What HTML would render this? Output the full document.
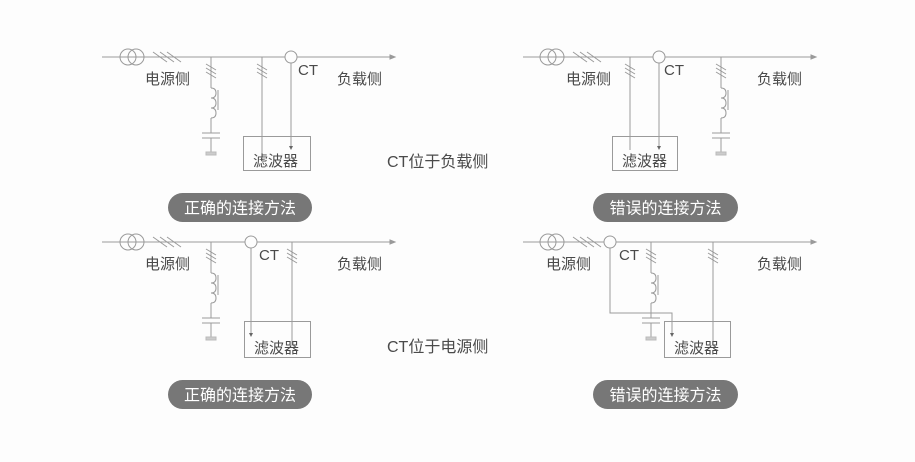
<!DOCTYPE html>
<html><head><meta charset="utf-8"><style>
html,body{margin:0;padding:0;background:#fdfdfd;}
svg{display:block;font-family:"Liberation Sans","Noto Sans CJK SC",sans-serif;}
</style></head><body>
<svg width="915" height="462" viewBox="0 0 915 462" xmlns="http://www.w3.org/2000/svg">
<defs>
<g id="tr" fill="none" stroke="#9a9a9a" stroke-width="1">
  <circle cx="-4" cy="0" r="8"/><circle cx="4" cy="0" r="8"/>
</g>
<g id="hash" stroke="#9a9a9a" stroke-width="1">
  <line x1="-12" y1="-5" x2="2" y2="5"/><line x1="-5" y1="-5" x2="9" y2="5"/><line x1="2" y1="-5" x2="16" y2="5"/>
</g>
<g id="vhash" stroke="#9a9a9a" stroke-width="1">
  <line x1="-5" y1="-7" x2="5" y2="-1"/><line x1="-5" y1="-3" x2="5" y2="3"/><line x1="-5" y1="1" x2="5" y2="7"/>
</g>
<g id="lc" fill="none" stroke="#9a9a9a" stroke-width="1">
  <line x1="0" y1="0" x2="0" y2="31"/>
  <path d="M0 31 q5 0 5 5 q0 5 -5 5 q5 0 5 5 q0 5 -5 5 q5 0 5 5 q0 5 -5 5"/>
  <line x1="7" y1="33" x2="7" y2="53"/>
  <line x1="0" y1="61" x2="0" y2="76"/>
  <line x1="-9" y1="76" x2="9" y2="76"/><line x1="-9" y1="81" x2="9" y2="81"/>
  <line x1="0" y1="81" x2="0" y2="95"/>
  <rect x="-5" y="95" width="10" height="3" fill="#ccc" stroke="#bbb"/>
</g>
</defs>
<g font-size="15" fill="#4a4a4a">
<!-- Panel 1 -->
<g stroke="#9a9a9a" fill="none">
<line x1="102" y1="57" x2="390" y2="57"/>
<polygon points="390,55 395,57 390,59" fill="#9a9a9a"/>
<line x1="262" y1="57" x2="262" y2="160"/>
<circle cx="291" cy="57" r="6" fill="#fdfdfd"/>
<line x1="291" y1="63" x2="291" y2="146"/>
<rect x="243.5" y="136.5" width="67" height="34"/>
</g>
<polygon points="289,146 293,146 291,150" fill="#666"/>
<use href="#tr" x="132" y="57"/><use href="#hash" x="165" y="57"/>
<g transform="translate(211,57)"><use href="#lc"/><use href="#vhash" y="14"/></g>
<use href="#vhash" x="262" y="71"/>
<text x="145" y="84">电源侧</text><text x="298" y="75">CT</text><text x="337" y="84">负载侧</text>
<text x="253" y="166">滤波器</text>
<text x="387" y="167" font-size="16">CT位于负载侧</text>
<rect x="168" y="193" width="144" height="29" rx="14.5" fill="#777"/>
<text x="240" y="213.5" fill="#fff" font-size="16" text-anchor="middle">正确的连接方法</text>

<!-- Panel 2 -->
<g stroke="#9a9a9a" fill="none">
<line x1="523" y1="57" x2="811" y2="57"/>
<polygon points="811,55 816,57 811,59" fill="#9a9a9a"/>
<line x1="630" y1="57" x2="630" y2="150"/>
<circle cx="659" cy="57" r="6" fill="#fdfdfd"/>
<line x1="659" y1="63" x2="659" y2="146"/>
<rect x="612.5" y="136.5" width="65" height="34"/>
</g>
<polygon points="657,146 661,146 659,150" fill="#666"/>
<use href="#tr" x="552" y="57"/><use href="#hash" x="585" y="57"/>
<g transform="translate(721,57)"><use href="#lc"/><use href="#vhash" y="14"/></g>
<use href="#vhash" x="630" y="71"/>
<text x="566" y="84">电源侧</text><text x="664" y="75">CT</text><text x="757" y="84">负载侧</text>
<text x="622" y="166">滤波器</text>
<rect x="593" y="193" width="145" height="29" rx="14.5" fill="#777"/>
<text x="665.5" y="213.5" fill="#fff" font-size="16" text-anchor="middle">错误的连接方法</text>

<!-- Panel 3 -->
<g stroke="#9a9a9a" fill="none">
<line x1="102" y1="242" x2="390" y2="242"/>
<polygon points="390,240 395,242 390,244" fill="#9a9a9a"/>
<line x1="292" y1="242" x2="292" y2="345"/>
<circle cx="251" cy="242" r="6" fill="#fdfdfd"/>
<line x1="251" y1="248" x2="251" y2="333"/>
<rect x="244.5" y="321.5" width="66" height="36"/>
</g>
<polygon points="249,333 253,333 251,337" fill="#666"/>
<use href="#tr" x="132" y="242"/><use href="#hash" x="165" y="242"/>
<g transform="translate(211,242)"><use href="#lc"/><use href="#vhash" y="14"/></g>
<use href="#vhash" x="292" y="256"/>
<text x="145" y="269">电源侧</text><text x="259" y="260">CT</text><text x="337" y="269">负载侧</text>
<text x="254" y="353">滤波器</text>
<text x="387" y="352" font-size="16">CT位于电源侧</text>
<rect x="168" y="380" width="144" height="29" rx="14.5" fill="#777"/>
<text x="240" y="400.5" fill="#fff" font-size="16" text-anchor="middle">正确的连接方法</text>

<!-- Panel 4 -->
<g stroke="#9a9a9a" fill="none">
<line x1="523" y1="242" x2="811" y2="242"/>
<polygon points="811,240 816,242 811,244" fill="#9a9a9a"/>
<line x1="713" y1="242" x2="713" y2="345"/>
<circle cx="610" cy="242" r="6" fill="#fdfdfd"/>
<polyline points="610,248 610,313 672,313 672,333"/>
<rect x="664.5" y="321.5" width="66" height="36"/>
</g>
<polygon points="670,333 674,333 672,337" fill="#666"/>
<use href="#tr" x="552" y="242"/><use href="#hash" x="585" y="242"/>
<g transform="translate(651,242)"><use href="#lc"/><use href="#vhash" y="14"/></g>
<use href="#vhash" x="713" y="256"/>
<text x="546" y="269">电源侧</text><text x="619" y="260">CT</text><text x="757" y="269">负载侧</text>
<text x="674" y="353">滤波器</text>
<rect x="593" y="380" width="145" height="29" rx="14.5" fill="#777"/>
<text x="665.5" y="400.5" fill="#fff" font-size="16" text-anchor="middle">错误的连接方法</text>
</g>
</svg>
</body></html>
